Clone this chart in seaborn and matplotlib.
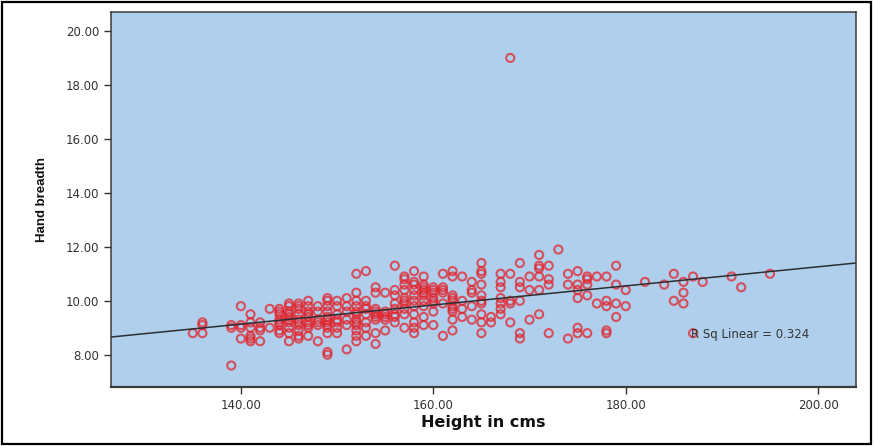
import numpy as np
import pandas as pd
import matplotlib
matplotlib.use('Agg')
import matplotlib.pyplot as plt
import matplotlib.patches as mpatches
import seaborn as sns

# heights (cm) and the hand breadths measured at each height
heights = [135, 136, 139, 140, 141, 142, 143, 144, 145, 146, 147, 148, 149,
           150, 151, 152, 153, 154, 155, 156, 157, 158, 159, 160, 161, 162,
           163, 164, 165, 166, 167, 168, 169, 170, 171, 172, 173, 174, 175,
           176, 177, 178, 179, 180, 182, 184, 185, 186, 187, 188, 191, 192, 195]
breadths = [
    [8.8],
    [9.2, 9.1, 8.8],
    [9.1, 9.0, 7.6],
    [9.8, 9.0, 8.6, 9.1],
    [8.6, 9.5, 9.2, 9.0, 8.7, 8.5],
    [9.2, 8.9, 8.5, 9.0],
    [9.7, 9.0],
    [9.7, 9.5, 9.3, 9.1, 8.9, 8.8, 9.6, 9.2],
    [9.9, 9.8, 9.6, 9.4, 9.2, 9.0, 8.8, 8.5, 9.5, 9.3],
    [9.9, 9.7, 9.5, 9.3, 9.1, 8.9, 8.7, 8.6, 9.8, 9.2],
    [10.0, 9.8, 9.6, 9.4, 9.2, 9.1, 9.0, 8.7, 9.5],
    [9.8, 9.6, 9.3, 9.1, 8.5, 9.2],
    [10.1, 10.0, 9.8, 9.6, 9.4, 9.2, 9.0, 8.8, 8.1, 8.0, 9.3, 9.1],
    [10.0, 9.8, 9.5, 9.2, 9.0, 8.8, 9.3],
    [10.1, 9.8, 9.6, 9.3, 9.1, 8.2],
    [11.0, 10.3, 10.0, 9.8, 9.5, 9.3, 9.1, 8.9, 8.7, 8.5, 9.6, 9.2],
    [11.1, 10.0, 9.8, 9.5, 9.2, 9.0, 8.7, 9.7],
    [10.5, 10.3, 9.7, 9.5, 9.3, 8.8, 8.4, 9.4, 9.6],
    [10.3, 9.5, 9.3, 8.9, 9.6, 9.4],
    [11.3, 10.4, 10.2, 9.9, 9.7, 9.5, 9.2, 9.4],
    [10.9, 10.6, 10.4, 10.1, 9.9, 9.7, 9.5, 9.0, 10.8, 10.0],
    [11.1, 10.6, 10.4, 10.2, 10.0, 9.8, 9.5, 9.2, 8.8, 10.7, 9.0],
    [10.9, 10.6, 10.4, 10.2, 10.0, 9.8, 9.4, 9.1, 10.5, 10.3],
    [10.5, 10.3, 10.1, 9.9, 9.6, 9.1, 10.4, 10.0],
    [11.0, 10.5, 10.3, 9.9, 8.7, 10.4],
    [11.1, 10.9, 10.2, 10.0, 9.8, 9.6, 9.3, 8.9, 10.1, 9.7],
    [10.9, 10.0, 9.4, 9.7],
    [10.7, 10.3, 9.8, 9.3, 10.4],
    [11.4, 11.1, 11.0, 10.6, 10.2, 9.9, 9.5, 9.2, 8.8, 10.0],
    [9.4, 9.2],
    [11.0, 10.7, 10.5, 10.1, 9.9, 9.7, 9.5],
    [19.0, 11.0, 10.0, 9.9, 9.2],
    [11.4, 10.7, 10.5, 10.0, 8.8, 8.6],
    [10.9, 10.4, 9.3],
    [11.7, 11.3, 11.2, 10.9, 10.4, 9.5],
    [11.3, 10.8, 10.6, 8.8],
    [11.9],
    [11.0, 10.6, 8.6],
    [11.1, 10.6, 10.4, 10.1, 9.0, 8.8],
    [10.9, 10.8, 10.6, 10.2, 8.8],
    [10.9, 9.9],
    [10.9, 10.0, 9.8, 8.9, 8.8],
    [11.3, 10.6, 9.9, 9.4],
    [10.4, 9.8],
    [10.7],
    [10.6],
    [11.0, 10.0],
    [10.7, 10.3, 9.9],
    [10.9, 8.8],
    [10.7],
    [10.9],
    [10.5],
    [11.0],
]
y_ticks = [8, 10, 12, 14, 16, 18, 20]
x_ticks = [140, 160, 180, 200]
r_sq_text = 'R Sq Linear = 0.324'

df = pd.DataFrame({
    'height': np.repeat(heights, [len(b) for b in breadths]),
    'breadth': np.concatenate(breadths),
})

sns.set_theme(style='ticks')
plt.rcParams['font.family'] = ['DejaVu Sans']

fig = plt.figure(figsize=(8.74, 4.46), dpi=100)
ax = fig.add_axes([0.127, 0.132, 0.852, 0.841])
ax.set_facecolor('#afcfec')

ax.set_xlim(126.5, 203.9)
ax.set_ylim(6.8, 20.7)

# fit line across the full axis range
sns.regplot(data=df, x='height', y='breadth', ax=ax, scatter=False, ci=None,
            truncate=False, color='#2b2f33', line_kws={'linewidth': 1.1})

sns.scatterplot(data=df, x='height', y='breadth', ax=ax, marker='o', s=34,
                facecolor='none', edgecolor='#e2242c', linewidth=1.5, alpha=0.75)

ax.set_xlim(126.5, 203.9)
ax.set_ylim(6.8, 20.7)
ax.set_xticks(x_ticks)
ax.set_yticks(y_ticks)
ax.set_xticklabels([f'{t:.2f}' for t in x_ticks])
ax.set_yticklabels([f'{t:.2f}' for t in y_ticks])
ax.tick_params(axis='both', length=5, width=1, color='#333333',
               labelcolor='#333333', labelsize=8.5)

for side in ['left', 'bottom', 'top', 'right']:
    ax.spines[side].set_visible(True)
    ax.spines[side].set_color('#3a3a3a')
    ax.spines[side].set_linewidth(1.1)
ax.spines['bottom'].set_linewidth(1.6)

ax.set_xlabel('Height in cms', fontsize=11.5, fontweight='bold', color='#111111',
              labelpad=2)
ax.set_ylabel('Hand breadth', fontsize=9.5, fontweight='bold', color='#111111',
              family=['Liberation Sans'], labelpad=13)

ax.text(186.8, 8.74, r_sq_text, fontsize=8.5, color='#333333',
        ha='left', va='center')

# outer frame round the whole picture
fig.add_artist(mpatches.Rectangle((0.002, 0.004), 0.995, 0.991, fill=False,
                                  edgecolor='black', linewidth=1.6,
                                  transform=fig.transFigure))

fig.savefig('out.png', dpi=100)
